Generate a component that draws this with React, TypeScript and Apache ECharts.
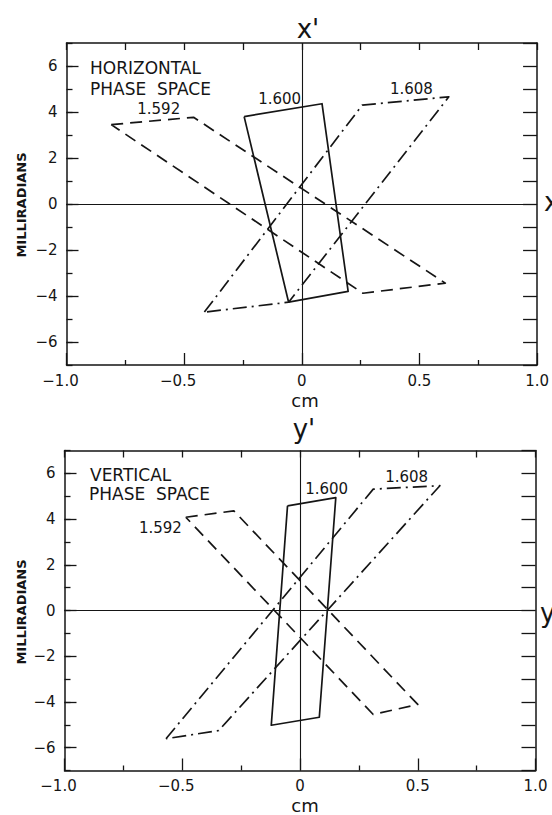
import React, { useEffect, useRef } from "react";
import * as echarts from "echarts";

// ---- tick values / labels ----
const xTickValues = [-1, -0.5, 0, 0.5, 1];
const xTickLabels = ["−1.0", "−0.5", "0", "0.5", "1.0"];
const yTickValues = [-6, -4, -2, 0, 2, 4, 6];
const yTickLabels = ["−6", "−4", "−2", "0", "2", "4", "6"];

// ---- horizontal phase space (cm, milliradians) ----
const h1592 = [[-0.81, 3.45], [-0.46, 3.77], [0.61, -3.44], [0.26, -3.88], [-0.81, 3.45]];
const h1600 = [[-0.245, 3.8], [0.086, 4.36], [0.197, -3.8], [-0.056, -4.27], [-0.245, 3.8]];
const h1608 = [[-0.414, -4.7], [0.257, 4.3], [0.625, 4.66], [-0.056, -4.27], [-0.414, -4.7]];
const hLabelNames = ["1.592", "1.600", "1.608"];
const hLabelPos = [[-0.608, 4.13], [-0.094, 4.56], [0.466, 4.99]];

// ---- vertical phase space ----
const v1592 = [[-0.485, 4.08], [-0.281, 4.36], [0.5, -4.11], [0.311, -4.55], [-0.485, 4.08]];
const v1600 = [[-0.053, 4.58], [0.152, 4.94], [0.082, -4.67], [-0.122, -5.02], [-0.053, 4.58]];
const v1608 = [[-0.569, -5.61], [0.311, 5.31], [0.594, 5.46], [-0.345, -5.25], [-0.569, -5.61]];
const vLabelNames = ["1.592", "1.600", "1.608"];
const vLabelPos = [[-0.593, 3.62], [0.113, 5.32], [0.453, 5.82]];

const INK = "#151515";
const FONT = "DejaVu Sans";
const DASHED = [12, 7];
const DASHDOT = [14, 5, 2, 5];

function xLabel(v: number) {
  const i = xTickValues.findIndex((t) => Math.abs(t - v) < 1e-9);
  if (i < 0) return "";
  const s = xTickLabels[i];
  if (s.startsWith("−")) return `{m|−}{n|${s.slice(1)}}{p| }`;
  return `{n|${s}}`;
}
function yLabel(v: number) {
  const i = yTickValues.findIndex((t) => Math.abs(t - v) < 1e-9);
  return i < 0 ? "" : yTickLabels[i];
}

function buildPanel(
  gi: number,
  rect: { left: number; top: number; width: number; height: number },
  shapes: number[][][],
  labelNames: string[],
  labelPos: number[][]
) {
  const grids = [
    { ...rect, containLabel: false },
    { ...rect, containLabel: false },
  ];
  const xBase = gi * 3;
  const yBase = gi * 3;
  const axisLine = { show: true, onZero: false, lineStyle: { color: INK, width: 1.5 } };
  const tickStyle = { color: INK, width: 1.3 };
  const xAxes = [
    {
      type: "value", gridIndex: gi * 2, position: "bottom", min: -1, max: 1, interval: 0.5,
      axisLine,
      axisTick: { show: true, inside: true, length: 12, lineStyle: tickStyle },
      minorTick: { show: true, splitNumber: 2, length: 5, lineStyle: tickStyle },
      splitLine: { show: false }, minorSplitLine: { show: false },
      axisLabel: {
        show: true, margin: 8, formatter: xLabel,
        rich: {
          m: { fontFamily: FONT, fontSize: 15, color: INK },
          n: { fontFamily: FONT, fontSize: 15, color: INK },
          p: { fontFamily: FONT, fontSize: 15, width: 12 },
        },
      },
    },
    {
      type: "value", gridIndex: gi * 2, position: "top", min: -1, max: 1, interval: 0.25,
      axisLine,
      axisTick: { show: true, inside: true, length: 7, lineStyle: tickStyle },
      splitLine: { show: false }, axisLabel: { show: false },
    },
    {
      type: "value", gridIndex: gi * 2 + 1, min: -1, max: 1, show: false,
    },
  ];
  const yAxes = [
    {
      type: "value", gridIndex: gi * 2, position: "left", min: -7, max: 7, interval: 1,
      axisLine,
      axisTick: { show: true, inside: true, length: 12, customValues: yTickValues, lineStyle: tickStyle },
      splitLine: { show: false },
      axisLabel: { show: true, margin: 9, customValues: yTickValues, formatter: yLabel, fontFamily: FONT, fontSize: 15, color: INK },
    },
    {
      type: "value", gridIndex: gi * 2, position: "right", min: -7, max: 7, interval: 1,
      axisLine,
      axisTick: { show: true, inside: true, length: 14, lineStyle: tickStyle },
      splitLine: { show: false }, axisLabel: { show: false },
    },
    {
      type: "value", gridIndex: gi * 2 + 1, position: "left", min: -7, max: 7, interval: 1,
      axisLine: { show: false, onZero: false },
      axisTick: { show: true, inside: true, length: 6, lineStyle: tickStyle },
      splitLine: { show: false }, axisLabel: { show: false },
    },
  ];
  const styles = [DASHED, "solid", DASHDOT];
  const series: any[] = shapes.map((d, k) => ({
    type: "line",
    xAxisIndex: xBase,
    yAxisIndex: yBase,
    data: d,
    symbol: "none",
    clip: false,
    lineStyle: { color: INK, width: 1.7, type: styles[k], join: "round", cap: "butt" },
    ...(k === 0
      ? {
          markLine: {
            silent: true,
            symbol: "none",
            label: { show: false },
            lineStyle: { color: INK, width: 1.1, type: "solid" },
            data: [{ xAxis: 0 }, { yAxis: 0 }],
          },
        }
      : {}),
  }));
  series.push({
    type: "scatter",
    xAxisIndex: xBase,
    yAxisIndex: yBase,
    symbol: "circle",
    symbolSize: 0,
    itemStyle: { color: INK },
    data: labelNames.map((n, k) => ({ name: n, value: labelPos[k] })),
    label: {
      show: true, position: "inside", formatter: "{b}",
      fontFamily: FONT, fontSize: 15, color: INK,
      textBorderWidth: 0, opacity: 1,
    },
  });
  return { grids, xAxes, yAxes, series };
}

function txt(text: string, x: number, y: number, size: number, align = "center", extra: any = {}) {
  return {
    type: "text",
    x, y,
    style: {
      text, font: `${extra.weight || "normal"} ${size}px "${FONT}"`, fill: INK,
      align, verticalAlign: "middle", textAlign: align, textVerticalAlign: "middle",
    },
    rotation: extra.rotation || 0,
  };
}

export default function App() {
  const ref = useRef<HTMLDivElement>(null);
  useEffect(() => {
    if (!ref.current) return;
    const chart = echarts.init(ref.current, undefined, { renderer: "svg" });
    const top = buildPanel(0, { left: 66.5, top: 43, width: 475, height: 322 }, [h1592, h1600, h1608], hLabelNames, hLabelPos);
    const bot = buildPanel(1, { left: 64.5, top: 450.5, width: 471, height: 320 }, [v1592, v1600, v1608], vLabelNames, vLabelPos);
    chart.setOption({
      animation: false,
      backgroundColor: "#ffffff",
      grid: [...top.grids, ...bot.grids],
      xAxis: [...top.xAxes, ...bot.xAxes],
      yAxis: [...top.yAxes, ...bot.yAxes],
      series: [...top.series, ...bot.series],
      graphic: [
        txt("HORIZONTAL", 90, 68, 17, "left"),
        txt("PHASE\u00a0\u00a0SPACE", 90, 89, 17, "left"),
        txt("VERTICAL", 90, 475, 17, "left"),
        txt("PHASE\u00a0\u00a0SPACE", 89, 494, 17, "left"),
        txt("x'", 308, 29, 26),
        txt("x", 544, 202, 26, "left"),
        txt("cm", 305, 400, 18),
        txt("MILLIRADIANS", 21.5, 205, 13, "center", { rotation: Math.PI / 2, weight: "bold" }),
        txt("y'", 304, 429, 26),
        txt("y", 540, 613, 26, "left"),
        txt("cm", 305, 805, 18),
        txt("MILLIRADIANS", 21.5, 612, 13, "center", { rotation: Math.PI / 2, weight: "bold" }),
      ],
    });
    return () => chart.dispose();
  }, []);
  return (
    <div
      ref={ref}
      style={{ position: "absolute", left: 0, top: 0, width: 552, height: 815, background: "#fff" }}
    />
  );
}
